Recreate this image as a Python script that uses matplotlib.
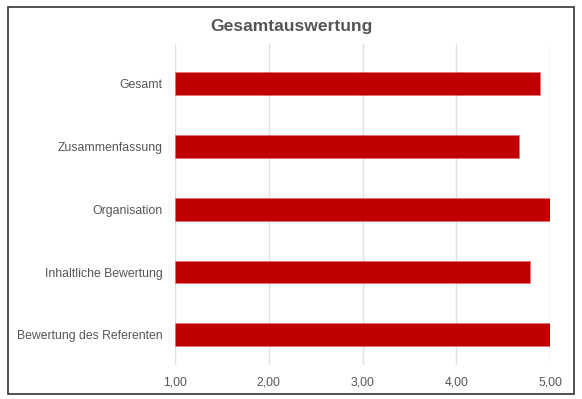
import matplotlib
matplotlib.use("Agg")
import matplotlib.pyplot as plt
from matplotlib.patches import Rectangle
from matplotlib.ticker import FuncFormatter

plt.rcParams["font.family"] = ["Liberation Sans", "DejaVu Sans"]

title = "Gesamtauswertung"
categories = [
    "Gesamt",
    "Zusammenfassung",
    "Organisation",
    "Inhaltliche Bewertung",
    "Bewertung des Referenten",
]
scores = [4.89, 4.67, 5.00, 4.79, 5.00]
x_ticks = [1, 2, 3, 4, 5]
baseline = 1.0
bar_color = "#C00000"

fig = plt.figure(figsize=(5.82, 3.99), dpi=100)
ax = fig.add_axes([175 / 582, 34 / 399, 375 / 582, 321 / 399])

pos = list(range(len(categories) - 1, -1, -1))
ax.barh(pos, [s - baseline for s in scores], left=baseline, height=0.365,
        color=bar_color, edgecolor="#e07070", linewidth=0.4, zorder=3)

ax.set_xlim(1, 5)
ax.set_ylim(-0.48, len(categories) - 1 + 0.63)
ax.set_xticks(x_ticks)
ax.xaxis.set_major_formatter(FuncFormatter(lambda v, _: f"{v:.2f}".replace(".", ",")))
ax.set_yticks(pos)
ax.set_yticklabels(categories)
ax.grid(axis="x", color="#e0e0e0", linewidth=1, zorder=0)
for s in ax.spines.values():
    s.set_visible(False)
ax.tick_params(axis="both", length=0, labelsize=8.8, labelcolor="#555555")
ax.tick_params(axis="y", pad=9)
ax.tick_params(axis="x", pad=8)

fig.text(0.5, 1 - 27 / 399, title, ha="center", va="center",
         fontsize=12.6, fontweight="bold", color="#555555")

fig.patches.append(Rectangle((8 / 582, 5 / 399), 566 / 582, 387 / 399,
                             transform=fig.transFigure, fill=False,
                             edgecolor="#333333", linewidth=1.2))

fig.savefig("out.png", dpi=100)
